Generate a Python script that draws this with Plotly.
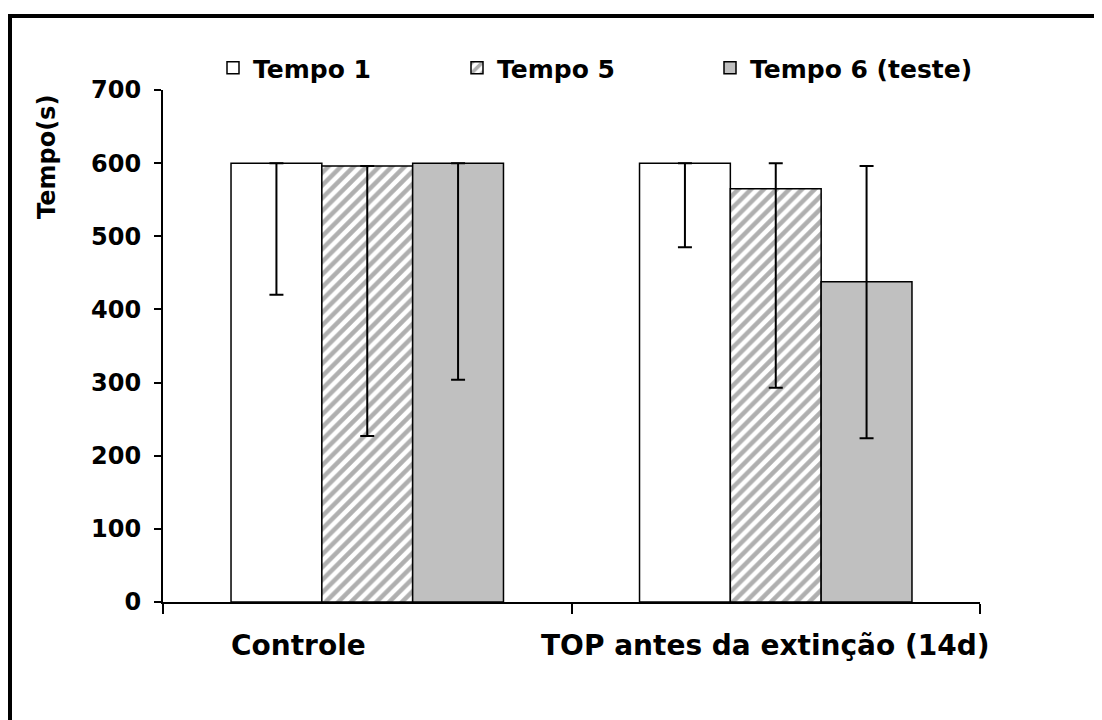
import plotly.graph_objects as go

categories = ["Controle", "TOP antes da extinção (14d)"]
series_names = ["Tempo 1", "Tempo 5", "Tempo 6 (teste)"]
tempo1 = [600, 600]
tempo1_err_minus = [180, 115]
tempo1_err_plus = [0, 0]
tempo5 = [596, 565]
tempo5_err_minus = [369, 272]
tempo5_err_plus = [0, 35]
tempo6 = [600, 438]
tempo6_err_minus = [296, 214]
tempo6_err_plus = [0, 158]
y_ticks = [0, 100, 200, 300, 400, 500, 600, 700]

FONT = "DejaVu Sans"
OFF = 8  # page body margin
W, H = 1102 - OFF, 720 - OFF
L, T = 163 - OFF, 90 - OFF
R = W - (980 - OFF)
B = H - (602 - OFF)
pw, ph = W - L - R, H - T - B

def px_x(px):
    return (px - OFF - L) / pw

def px_y(py):
    return (H - B - (py - OFF)) / ph

err_style = dict(type="data", symmetric=False, color="black", thickness=2, width=7)
legend_font = dict(family=FONT, size=25, color="black", weight="bold")

fig = go.Figure()
fig.add_trace(go.Bar(
    name=series_names[0], x=categories, y=tempo1, legend="legend",
    marker=dict(color="white", line=dict(color="black", width=1.5)),
    error_y=dict(array=tempo1_err_plus, arrayminus=tempo1_err_minus, **err_style),
))
fig.add_trace(go.Bar(
    name=series_names[1], x=categories, y=tempo5, legend="legend2",
    marker=dict(color="white", line=dict(color="black", width=1.5),
                pattern=dict(shape="/", fgcolor="#606060", bgcolor="white",
                             size=9, solidity=0.5)),
    error_y=dict(array=tempo5_err_plus, arrayminus=tempo5_err_minus, **err_style),
))
fig.add_trace(go.Bar(
    name=series_names[2], x=categories, y=tempo6, legend="legend3",
    marker=dict(color="#C0C0C0", line=dict(color="black", width=1.5)),
    error_y=dict(array=tempo6_err_plus, arrayminus=tempo6_err_minus, **err_style),
))

def leg(xpx):
    return dict(orientation="h", x=px_x(xpx), xanchor="left", y=px_y(68), yanchor="middle",
                font=legend_font, bgcolor="rgba(0,0,0,0)")

fig.update_layout(
    width=W, height=H,
    margin=dict(l=L, r=R, t=T, b=B),
    paper_bgcolor="white", plot_bgcolor="white",
    barmode="group", bargap=0.333, bargroupgap=0,
    font=dict(family=FONT, color="black"),
    showlegend=True,
    legend=leg(213), legend2=leg(457), legend3=leg(710),
    xaxis=dict(showticklabels=False, showline=True, linecolor="black", linewidth=2,
               ticks="outside", tickson="boundaries", ticklen=10, tickwidth=1.5,
               tickcolor="black", showgrid=False, zeroline=False),
    yaxis=dict(range=[0, 700], tickvals=y_ticks, showline=True, linecolor="black",
               linewidth=2, ticks="outside", ticklen=7, tickwidth=1.5, tickcolor="black",
               showgrid=False, zeroline=False, ticklabelstandoff=8,
               tickfont=dict(family=FONT, size=24, color="black", weight="bold")),
)

label_x = [px_x(298), px_x(765)]
for cat, lx in zip(categories, label_x):
    fig.add_annotation(text=cat, xref="paper", yref="paper", x=lx, y=px_y(645),
                       xanchor="center", yanchor="middle", showarrow=False,
                       font=dict(family=FONT, size=28, color="black", weight="bold"))

fig.add_annotation(text="Tempo(s)", xref="paper", yref="paper", x=px_x(47), y=px_y(157),
                   xanchor="center", yanchor="middle", textangle=-90, showarrow=False,
                   font=dict(family=FONT, size=24, color="black", weight="bold"))

# outer frame (left and top edges, as in the cropped original)
fig.add_shape(type="line", xref="paper", yref="paper", x0=px_x(10), x1=px_x(10),
              y0=px_y(16), y1=px_y(730), line=dict(color="black", width=4))
fig.add_shape(type="line", xref="paper", yref="paper", x0=px_x(8), x1=px_x(1110),
              y0=px_y(16), y1=px_y(16), line=dict(color="black", width=4))

fig.write_html("out.html")
